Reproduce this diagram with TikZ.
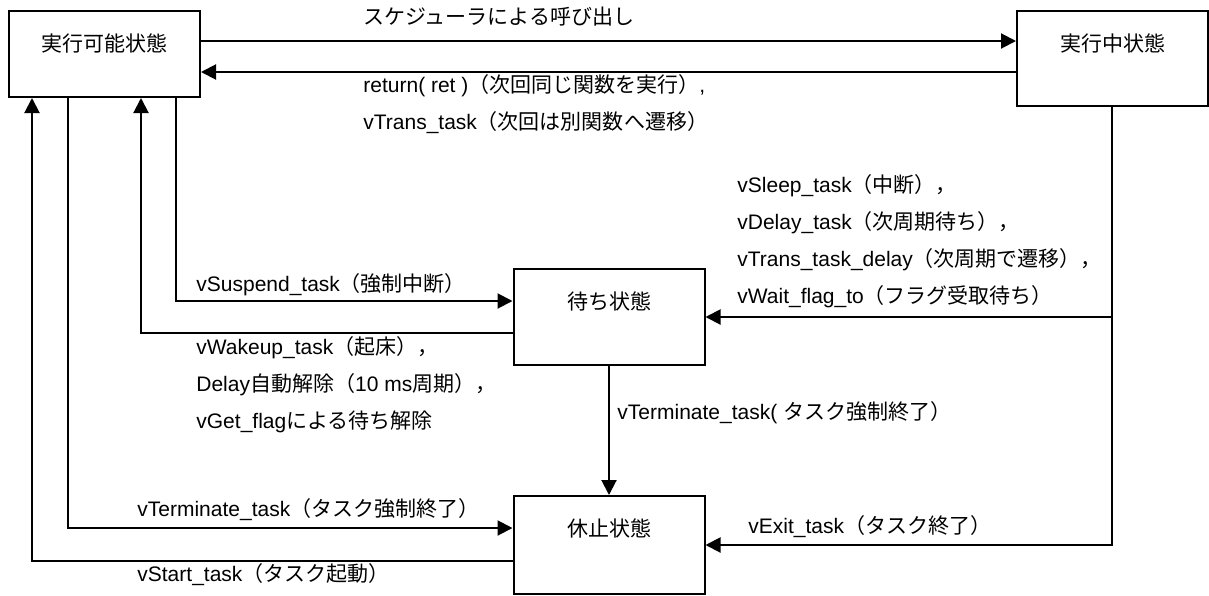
\documentclass[tikz,border=0pt]{standalone}
\usepackage{fontspec}
\setmainfont{Liberation Sans}
\newfontfamily\jpfont{Noto Sans CJK JP}
\newcommand{\jtext}[1]{{\jpfont #1}}
\usetikzlibrary{arrows.meta,calc}
\tikzset{
  state/.style={draw, line width=1pt, minimum width=95.5pt, inner sep=0pt, text height=20pt, anchor=north},
  trans/.style={line width=1pt, -{Triangle[length=7.5pt,width=7.5pt]}},
  lbl/.style={anchor=west, inner sep=0pt, align=left},
}
\begin{document}
\begin{tikzpicture}[x=0.5pt, y=-0.5pt, font={\fontsize{10.5}{18.5}\selectfont}]
  \useasboundingbox (0,0) rectangle (1209,595);
  \node[state, text depth=23pt] (ready) at (104.5,10) {\jtext{実行可能状態}};
  \node[state, text depth=27.5pt] (run) at (1112.5,10) {\jtext{実行中状態}};
  \node[state, text depth=28pt] (wait) at (609,268) {\jtext{待ち状態}};
  \node[state, text depth=29pt] (dormant) at (609,495) {\jtext{休止状態}};

  \draw[trans] ($(ready.north east)+(0,31)$) -- ($(run.north west)+(0,31)$);
  \draw[trans] ($(run.north west)+(0,62)$) -- ($(ready.north east)+(0,62)$);
  \draw[trans] ($(ready.south west)+(168,0)$) |- ($(wait.north west)+(0,33)$);
  \draw[trans] ($(wait.north west)+(0,65)$) -| ($(ready.south west)+(133,0)$);
  \draw[trans] ($(ready.south west)+(60,0)$) |- ($(dormant.north west)+(0,33)$);
  \draw[trans] ($(dormant.north west)+(0,66)$) -| ($(ready.south west)+(24,0)$);
  \draw[trans] ($(run.south west)+(96,0)$) |- ($(wait.north east)+(0,49)$);
  \draw[trans] ($(run.south west)+(96,0)$) |- ($(dormant.north east)+(0,50)$);
  \draw[trans] (wait.south) -- (dormant.north);

  \node[lbl] (callLbl) at (363,17) {\jtext{スケジューラによる呼び出し}};
  \node[lbl] (returnLbl) at (363,104.5) {return( ret )\jtext{（次回同じ関数を実行）},\\vTrans\_task\jtext{（次回は別関数へ遷移）}};
  \node[lbl] (sleepLbl) at (737,241) {vSleep\_task\jtext{（中断），}\\vDelay\_task\jtext{（次周期待ち），}\\vTrans\_task\_delay\jtext{（次周期で遷移），}\\vWait\_flag\_to\jtext{（フラグ受取待ち）}};
  \node[lbl] (suspendLbl) at (196,285) {vSuspend\_task\jtext{（強制中断）}};
  \node[lbl] (wakeupLbl) at (196,385) {vWakeup\_task\jtext{（起床），}\\Delay\jtext{自動解除（}10 ms\jtext{周期），}\\vGet\_flag\jtext{による待ち解除}};
  \node[lbl] (termLbl) at (617,413) {vTerminate\_task( \jtext{タスク強制終了）}};
  \node[lbl] (exitLbl) at (748,527) {vExit\_task\jtext{（タスク終了）}};
  \node[lbl] (forceLbl) at (137,510) {vTerminate\_task\jtext{（タスク強制終了）}};
  \node[lbl] (startLbl) at (137,575) {vStart\_task\jtext{（タスク起動）}};
\end{tikzpicture}
\end{document}
